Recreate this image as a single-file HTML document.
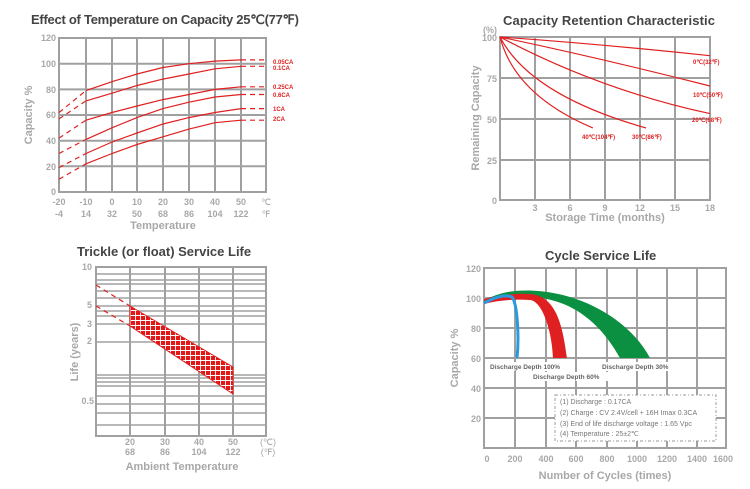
<!DOCTYPE html>
<html><head><meta charset="utf-8"><style>
body{margin:0;background:#fff}
svg{display:block;font-family:"Liberation Sans",Arial,sans-serif}
.g{stroke:#a0a0a0;stroke-width:2;fill:none}
.t{fill:#a8a8a8;font-size:9px;font-weight:bold}
.ax{fill:#a8a8a8;font-size:11px;font-weight:bold}
.ti{fill:#444;font-size:13px;font-weight:bold}
.r{stroke:#e02020;stroke-width:1.2;fill:none}
.rd{stroke:#e02020;stroke-width:1.2;fill:none;stroke-dasharray:5,4}
.rl{fill:#e02020;font-size:6px;font-weight:bold}
</style></head><body>
<svg width="750" height="489" viewBox="0 0 750 489">
<defs>
<pattern id="h" width="5" height="5" patternUnits="userSpaceOnUse">
<rect width="5" height="5" fill="#e01818"/>
<path d="M0 0.5H5M0.5 0V5" stroke="#fff" stroke-width="0.9"/>
</pattern>
</defs>
<!-- Chart 1 -->
<text x="31" y="24" class="ti" font-size="12.3" textLength="268">Effect of Temperature on Capacity  25℃(77℉)</text>
<g class="g">
<rect x="59" y="38" width="207" height="154"/>
<path d="M86 38V192M112 38V192M137 38V192M163 38V192M189 38V192M215 38V192M241 38V192"/>
<path d="M59 63.7H266M59 89.4H266M59 115H266M59 140.7H266M59 166.3H266"/>
</g>
<g class="t" text-anchor="end">
<text x="56" y="41">120</text><text x="56" y="67">100</text><text x="56" y="93">80</text><text x="56" y="118">60</text><text x="56" y="144">40</text><text x="56" y="170">20</text><text x="56" y="195">0</text>
</g>
<g class="t" text-anchor="middle">
<text x="59" y="205">-20</text><text x="86" y="205">-10</text><text x="112" y="205">0</text><text x="137" y="205">10</text><text x="163" y="205">20</text><text x="189" y="205">30</text><text x="215" y="205">40</text><text x="241" y="205">50</text><text x="266" y="205" font-weight="normal">℃</text>
<text x="59" y="217">-4</text><text x="86" y="217">14</text><text x="112" y="217">32</text><text x="137" y="217">50</text><text x="163" y="217">68</text><text x="189" y="217">86</text><text x="215" y="217">104</text><text x="241" y="217">122</text><text x="266" y="217" font-weight="normal">℉</text>
</g>
<text x="163" y="229" class="ax" text-anchor="middle">Temperature</text>
<text transform="translate(32,115) rotate(-90)" class="ax" text-anchor="middle">Capacity %</text>
<path class="rd" d="M59 112.5L86 90.6M241 59.9H266M59 118.9L86 100.9M241 66.3H266M59 138.1L86 120.2M241 86.8H266M59 153.5L86 139.4M241 94.5H266M59 167.6L86 153.5M241 108.6H266M59 179.2L86 163.8M241 120.2H266"/>
<polyline class="r" points="86,90.6 112,81.7 137,74 163,67.5 189,63.7 215,61.1 241,59.9"/>
<polyline class="r" points="86,100.9 112,93.2 137,85.5 163,79.1 189,74 215,68.8 241,66.3"/>
<polyline class="r" points="86,120.2 112,112.5 137,106 163,99.6 189,94.5 215,89.4 241,86.8"/>
<polyline class="r" points="86,139.4 112,127.8 137,117.6 163,108.6 189,102.2 215,97 241,94.5"/>
<polyline class="r" points="86,153.5 112,142 137,133 163,124 189,117.6 215,112.5 241,108.6"/>
<polyline class="r" points="86,163.8 112,153.5 137,144.5 163,136.8 189,129.1 215,122.7 241,120.2"/>
<g class="rl"><text x="273" y="64">0.05CA</text><text x="273" y="70">0.1CA</text><text x="273" y="89">0.25CA</text><text x="273" y="97">0.6CA</text><text x="273" y="111">1CA</text><text x="273" y="121">2CA</text></g>

<!-- Chart 2 -->
<text x="503" y="25" class="ti" textLength="212">Capacity Retention Characteristic</text>
<g class="g">
<rect x="500" y="37" width="210" height="163"/>
<path d="M535 37V200M570 37V200M605 37V200M640 37V200M675 37V200M500 78H710M500 119H710M500 160H710"/>
</g>
<g class="t" text-anchor="end">
<text x="497" y="33">(%)</text><text x="497" y="41">100</text><text x="497" y="82">75</text><text x="497" y="123">50</text><text x="497" y="164">25</text><text x="497" y="204">0</text>
</g>
<g class="t" text-anchor="middle">
<text x="535" y="211">3</text><text x="570" y="211">6</text><text x="605" y="211">9</text><text x="640" y="211">12</text><text x="675" y="211">15</text><text x="710" y="211">18</text>
</g>
<text x="605" y="221" class="ax" text-anchor="middle">Storage Time (months)</text>
<text transform="translate(479,118) rotate(-90)" class="ax" text-anchor="middle">Remaining Capacity</text>
<path class="r" d="M500 37Q600 44 710 55.7M500 37Q600 58 710 86M500 37Q600 90 710 113.6M500 37Q530 95 646 128M500 37Q515 95 593 128"/>
<g class="rl"><text x="693" y="64">0℃(32℉)</text><text x="693" y="97">10℃(50℉)</text><text x="692" y="122">20℃(68℉)</text><text x="632" y="139">30℃(86℉)</text><text x="582" y="139">40℃(104℉)</text></g>

<!-- Chart 3 -->
<text x="77" y="256" class="ti">Trickle (or float) Service Life</text>
<g class="g">
<rect x="96" y="267" width="170" height="169"/>
<path d="M130 267V436M165 267V436M199 267V436M233 267V436"/>
<path d="M96 274H266M96 280H266M96 284H266M96 291H266M96 298H266M96 306H266M96 311H266M96 316H266M96 324H266M96 342H266M96 375H266M96 378H266M96 382H266M96 386H266M96 396H266M96 404H266M96 413H266M96 425H266" stroke-width="1.5"/>
</g>
<path d="M130 306L233 367V394L130 326Z" fill="url(#h)" stroke="#e02020" stroke-width="1"/>
<path class="rd" d="M96 285L130 306M96 306L130 326"/>
<g class="t" text-anchor="end">
<text x="92" y="270">10</text><text x="92" y="308">5</text><text x="92" y="327">3</text><text x="92" y="344">2</text><text x="94" y="404">0.5</text>
</g>
<g class="t" text-anchor="middle">
<text x="130" y="445">20</text><text x="165" y="445">30</text><text x="199" y="445">40</text><text x="233" y="445">50</text><text x="268" y="445" font-weight="normal">(℃)</text>
<text x="130" y="455">68</text><text x="165" y="455">86</text><text x="199" y="455">104</text><text x="233" y="455">122</text><text x="268" y="455" font-weight="normal">(℉)</text>
</g>
<text x="182" y="470" class="ax" text-anchor="middle" font-size="12">Ambient Temperature</text>
<text transform="translate(78,352) rotate(-90)" class="ax" text-anchor="middle">Life (years)</text>

<!-- Chart 4 -->
<text x="545" y="260" class="ti">Cycle Service Life</text>
<g class="g">
<rect x="484" y="268" width="242" height="180"/>
<path d="M515 268V448M546 268V448M576 268V448M607 268V448M637 268V448M667 268V448M697 268V448M484 298H726M484 328H726M484 358H726M484 388H726M484 418H726"/>
</g>
<path d="M484 300C500 293 510 290.5 526 290.5C580 290.5 630 320 650 358L620 358C600 322 570 297 526 297C510 297 495 299 484 303Z" fill="#0a9040"/>
<path d="M484 299C500 295 515 293 530 294C558 296 563 330 567 358L553 358C552 330 542 301 530 300C515 299 500 300 484 304Z" fill="#e02020"/>
<path d="M484 303C495 297 505 294 512 297C518 305 519 340 517 358" stroke="#2a9ae0" stroke-width="3" fill="none"/>
<g class="t" text-anchor="end" font-size="10">
<text x="481" y="272">120</text><text x="481" y="302">100</text><text x="481" y="332">80</text><text x="481" y="362">60</text><text x="481" y="392">40</text><text x="481" y="422">20</text>
</g>
<g class="t" text-anchor="middle" font-size="10">
<text x="487" y="462">0</text><text x="515" y="462">200</text><text x="546" y="462">400</text><text x="576" y="462">600</text><text x="607" y="462">800</text><text x="637" y="462">1000</text><text x="667" y="462">1200</text><text x="697" y="462">1400</text><text x="723" y="462">1600</text>
</g>
<text x="605" y="479" class="ax" text-anchor="middle" font-size="12" fill="#999">Number of Cycles (times)</text>
<text transform="translate(458,358) rotate(-90)" class="ax" text-anchor="middle" font-size="12">Capacity %</text>
<g fill="#666" font-size="6.5" font-weight="bold">
<rect x="490" y="362" width="80" height="9" fill="#fff"/>
<text x="490" y="369">Discharge Depth 100%</text>
<rect x="532" y="372" width="76" height="9" fill="#fff"/>
<text x="533" y="379">Discharge Depth 60%</text>
<rect x="601" y="362" width="76" height="9" fill="#fff"/>
<text x="602" y="369">Discharge Depth 30%</text>
</g>
<rect x="555" y="395" width="161" height="46" fill="#fff" stroke="#999" stroke-dasharray="3,2,1,2"/>
<g fill="#777" font-size="7">
<text x="560" y="404">(1) Discharge : 0.17CA</text>
<text x="560" y="415">(2) Charge : CV 2.4V/cell + 16H Imax 0.3CA</text>
<text x="560" y="426">(3) End of life discharge voltage : 1.65 Vpc</text>
<text x="560" y="436">(4) Temperature : 25±2℃</text>
</g>
</svg>
</body></html>
